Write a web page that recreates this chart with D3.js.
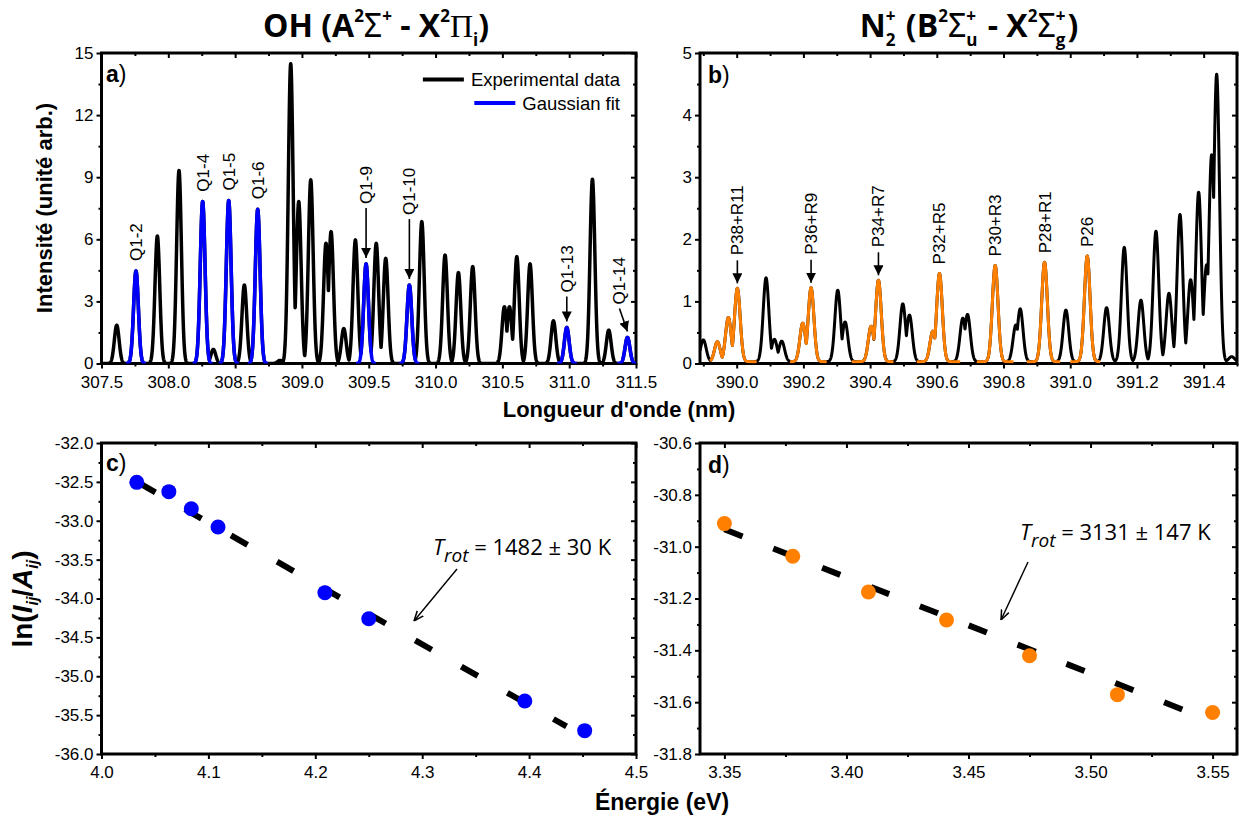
<!DOCTYPE html>
<html>
<head>
<meta charset="utf-8">
<title>OH et N2+ : spectres et diagrammes de Boltzmann</title>
<script src="https://d3js.org/d3.v7.min.js"></script>
<style>
  body { margin: 0; background: #fff; }
</style>
</head>
<body>
<svg id="fig" width="1239" height="823"></svg>
<script>
// ---- OH (A-X) spectrum : experimental lines (nm / intensity)
var ohLineNm  = [307.614, 307.918, 308.080, 308.337, 308.569, 308.836, 308.916, 308.976, 309.066, 309.180,
                 309.218, 309.313, 309.400, 309.556, 309.627, 309.897, 310.071, 310.171, 310.278, 310.515,
                 310.553, 310.608, 310.707, 310.882, 311.174, 311.296];
var ohLineInt = [1.85, 6.16, 9.32, 0.68, 3.79, 0.15, 14.48, 7.82, 8.87, 5.81,
                 6.37, 1.69, 5.97, 5.80, 5.08, 6.85, 5.24, 4.39, 4.68, 2.74,
                 2.74, 5.16, 4.81, 2.06, 8.90, 1.61];
// gaussian-fitted Q1 lines
var ohFitNm    = [307.758, 308.257, 308.452, 308.669, 309.480, 309.804, 310.982, 311.436];
var ohFitInt   = [4.47, 7.82, 7.87, 7.45, 4.81, 3.79, 1.74, 1.26];
var ohFitLabel = ["Q1-2", "Q1-4", "Q1-5", "Q1-6", "Q1-9", "Q1-10", "Q1-13", "Q1-14"];

// ---- N2+ (B-X) spectrum : experimental lines
var n2LineNm  = [389.900, 390.088, 390.113, 390.135, 390.303, 390.325, 390.498, 390.518, 390.678, 390.692,
                 390.837, 390.850, 390.987, 391.109, 391.162, 391.212, 391.257, 391.296, 391.329, 391.361,
                 391.385, 391.409, 391.424, 391.439, 391.484];
var n2LineInt = [0.35, 1.35, 0.36, 0.33, 1.15, 0.64, 0.93, 0.75, 0.70, 0.76,
                 0.59, 0.85, 0.83, 0.87, 1.84, 0.99, 2.10, 1.10, 2.37, 1.32,
                 2.73, 1.56, 3.33, 4.63, 0.08];
// fitted components and the ranges where the fit is drawn
var n2FitNm    = [389.942, 389.975, 390.002, 390.198, 390.223, 390.403, 390.425, 390.588, 390.608, 390.775, 390.923, 391.051];
var n2FitInt   = [0.32, 0.71, 1.18, 0.62, 1.19, 0.57, 1.31, 0.49, 1.42, 1.55, 1.60, 1.70];
var n2FitFrom  = [389.920, 390.160, 390.345, 390.540, 390.720, 390.870, 391.000];
var n2FitTo    = [390.060, 390.270, 390.470, 390.670, 390.830, 390.970, 391.090];
var n2FitLabel = ["P38+R11", "P36+R9", "P34+R7", "P32+R5", "P30+R3", "P28+R1", "P26"];

// ---- Boltzmann plots
var ohEnergy  = [4.033, 4.063, 4.084, 4.109, 4.209, 4.250, 4.396, 4.452];
var ohLnRatio = [-32.506, -32.626, -32.845, -33.080, -33.925, -34.260, -35.318, -35.700];
var ohFitE    = [4.035, 4.435];
var ohFitLn   = [-32.514, -35.646];
var ohTrot    = "1482 ± 30 K";

var n2Energy  = [3.350, 3.378, 3.409, 3.441, 3.475, 3.511, 3.550];
var n2LnRatio = [-30.911, -31.037, -31.175, -31.283, -31.421, -31.571, -31.640];
var n2FitE    = [3.350, 3.540];
var n2FitLn   = [-30.933, -31.637];
var n2Trot    = "3131 ± 147 K";

// ---- ticks
var ohNmTicks  = [307.5, 308.0, 308.5, 309.0, 309.5, 310.0, 310.5, 311.0, 311.5];
var ohIntTicks = [0, 3, 6, 9, 12, 15];
var n2NmTicks  = [390.0, 390.2, 390.4, 390.6, 390.8, 391.0, 391.2, 391.4];
var n2IntTicks = [0, 1, 2, 3, 4, 5];
var ohETicks   = [4.0, 4.1, 4.2, 4.3, 4.4, 4.5];
var ohLnTicks  = [-36.0, -35.5, -35.0, -34.5, -34.0, -33.5, -33.0, -32.5, -32.0];
var n2ETicks   = [3.35, 3.40, 3.45, 3.50, 3.55];
var n2LnTicks  = [-31.8, -31.6, -31.4, -31.2, -31.0, -30.8, -30.6];

var legendNames = ["Experimental data", "Gaussian fit"];

// ---------------------------------------------------------------------------
var sans = "'Liberation Sans', Arial, sans-serif";
var open = "'Open Sans', 'Noto Sans', sans-serif";
var blue = "#0000ff", orange = "#ff8000";

var svg = d3.select("#fig");

// plot frames
var pA = {x0: 101.5, x1: 636, y0: 53, y1: 363.5};
var pB = {x0: 700, x1: 1237, y0: 53, y1: 363.5};
var pC = {x0: 101.5, x1: 636, y0: 443, y1: 754};
var pD = {x0: 700, x1: 1237, y0: 443, y1: 754};

var xA = d3.scaleLinear().domain([307.5, 311.5]).range([pA.x0, pA.x1]);
var yA = d3.scaleLinear().domain([0, 15]).range([pA.y1, pA.y0]);
var xB = d3.scaleLinear().domain([389.89, 391.5]).range([pB.x0, pB.x1]);
var yB = d3.scaleLinear().domain([0, 5]).range([pB.y1, pB.y0]);
var xC = d3.scaleLinear().domain([4.0, 4.5]).range([pC.x0, pC.x1]);
var yC = d3.scaleLinear().domain([-36, -32]).range([pC.y1, pC.y0]);
var xD = d3.scaleLinear().domain([3.34, 3.56]).range([pD.x0, pD.x1]);
var yD = d3.scaleLinear().domain([-31.8, -30.6]).range([pD.y1, pD.y0]);

var defs = svg.append("defs");
defs.append("marker").attr("id", "head").attr("viewBox", "0 0 10 10")
    .attr("refX", 10).attr("refY", 5).attr("markerUnits", "userSpaceOnUse")
    .attr("markerWidth", 10).attr("markerHeight", 10).attr("orient", "auto")
  .append("path").attr("d", "M0,0L10,5L0,10Z").attr("fill", "#000");
defs.append("marker").attr("id", "vhead").attr("viewBox", "0 0 10 10")
    .attr("refX", 10).attr("refY", 5).attr("markerUnits", "userSpaceOnUse")
    .attr("markerWidth", 10).attr("markerHeight", 10).attr("orient", "auto")
  .append("path").attr("d", "M0,1L10,5L0,9").attr("fill", "none").attr("stroke", "#000").attr("stroke-width", 1.5);
[["clipA", pA], ["clipB", pB]].forEach(function(c) {
  defs.append("clipPath").attr("id", c[0]).append("rect")
      .attr("x", c[1].x0).attr("y", c[1].y0 - 1).attr("width", c[1].x1 - c[1].x0).attr("height", c[1].y1 - c[1].y0 + 1);
});

function minors(ticks, dom) {
  var step = ticks[1] - ticks[0], out = [];
  for (var v = ticks[0] - step / 2; v <= dom[1] + 1e-9; v += step) {
    if (v >= dom[0] - 1e-9) out.push(v);
  }
  return out;
}

function axes(p, xs, ys, xt, yt, xf, yf) {
  var g = svg.append("g");
  var xm = minors(xt, xs.domain()), ym = minors(yt, ys.domain());
  g.append("g").attr("transform", "translate(0," + p.y1 + ")")
    .call(d3.axisBottom(xs).tickValues(xt).tickFormat(xf).tickSize(5).tickPadding(7));
  g.append("g").attr("transform", "translate(0," + p.y1 + ")")
    .call(d3.axisBottom(xs).tickValues(xm).tickFormat("").tickSize(3));
  g.append("g").attr("transform", "translate(0," + p.y0 + ")")
    .call(d3.axisTop(xs).tickValues(xt).tickFormat("").tickSize(-5));
  g.append("g").attr("transform", "translate(0," + p.y0 + ")")
    .call(d3.axisTop(xs).tickValues(xm).tickFormat("").tickSize(-3));
  g.append("g").attr("transform", "translate(" + p.x0 + ",0)")
    .call(d3.axisLeft(ys).tickValues(yt).tickFormat(yf).tickSize(5).tickPadding(3));
  g.append("g").attr("transform", "translate(" + p.x0 + ",0)")
    .call(d3.axisLeft(ys).tickValues(ym).tickFormat("").tickSize(3));
  g.append("g").attr("transform", "translate(" + p.x1 + ",0)")
    .call(d3.axisRight(ys).tickValues(yt).tickFormat("").tickSize(-5));
  g.append("g").attr("transform", "translate(" + p.x1 + ",0)")
    .call(d3.axisRight(ys).tickValues(ym).tickFormat("").tickSize(-3));
  g.selectAll(".domain").remove();
  g.selectAll(".tick line").attr("stroke", "#000").attr("stroke-width", 2);
  g.selectAll(".tick text").attr("font-size", 17).attr("font-family", sans).attr("fill", "#000");
  svg.append("rect").attr("x", p.x0).attr("y", p.y0)
    .attr("width", p.x1 - p.x0).attr("height", p.y1 - p.y0)
    .attr("fill", "none").attr("stroke", "#000").attr("stroke-width", 3);
}

// line profile built from a list of lines (center, height)
function profile(grid, centers, heights, sigma, base) {
  return grid.map(function(x) {
    var v = 0;
    centers.forEach(function(c, i) {
      var d = x - c;
      if (Math.abs(d) < 6 * sigma) v = Math.max(v, heights[i] * Math.exp(-d * d / (2 * sigma * sigma)));
    });
    return [x, v + base];
  });
}

// text made of pieces (super/subscripts), returns group and width
function rich(parent, parts) {
  var g = parent.append("g"), x = 0;
  parts.forEach(function(p) {
    var list = p.stack || [p], w = 0;
    list.forEach(function(q) {
      var t = g.append("text").attr("x", x).attr("y", q.shift || 0)
        .attr("font-size", q.size).attr("font-family", q.fam || open)
        .attr("font-weight", q.weight || "normal").attr("font-style", q.style || "normal")
        .attr("fill", "#000").text(q.t);
      w = Math.max(w, t.node().getComputedTextLength());
    });
    x += w + (p.gap || 0);
  });
  return {g: g, w: x};
}

function panelLetter(x, y, letter) {
  var t = svg.append("text").attr("x", x).attr("y", y).attr("font-family", sans).attr("font-size", 23);
  t.append("tspan").attr("font-weight", "bold").text(letter);
  t.append("tspan").text(")");
}

function arrow(x1, y1, x2, y2, mk, w) {
  svg.append("line").attr("x1", x1).attr("y1", y1).attr("x2", x2).attr("y2", y2)
    .attr("stroke", "#000").attr("stroke-width", w).attr("marker-end", "url(#" + mk + ")");
}

function vLabel(x, y, txt) {
  svg.append("text").attr("transform", "translate(" + x + "," + y + ") rotate(-90)")
    .attr("dy", "0.35em").attr("font-family", sans).attr("font-size", 17).text(txt);
}

var line = d3.line();

// ============ a) OH spectrum
axes(pA, xA, yA, ohNmTicks, ohIntTicks, function(d) { return d.toFixed(1); }, function(d) { return d; });
var sigA = 0.018;
var gridA = d3.range(307.5, 311.5005, 0.001);
var expA = profile(gridA, ohLineNm.concat(ohFitNm), ohLineInt.concat(ohFitInt), sigA, 0);
var gA = svg.append("g").attr("clip-path", "url(#clipA)");
gA.append("path").attr("d", line(expA.map(function(d) { return [xA(d[0]), yA(d[1])]; })))
  .attr("fill", "none").attr("stroke", "#000").attr("stroke-width", 3.5).attr("stroke-linejoin", "round");
ohFitNm.forEach(function(c, i) {
  var seg = profile(d3.range(c - 0.075, c + 0.0755, 0.001), [c], [ohFitInt[i]], sigA, 0);
  gA.append("path").attr("d", line(seg.map(function(d) { return [xA(d[0]), yA(d[1])]; })))
    .attr("fill", "none").attr("stroke", blue).attr("stroke-width", 3.5).attr("stroke-linejoin", "round");
});
// labels Q1-x (arrow length in px, 0 = no arrow)
var ohArrow = [0, 0, 0, 0, 50, 60, 25, 23];
var ohLabDx = [0, 0, 0, 0, 0, 0, 0, -8];
ohFitNm.forEach(function(c, i) {
  var px = xA(c), top = yA(ohFitInt[i]);
  if (ohArrow[i]) {
    var tip = top - 6;
    arrow(px + ohLabDx[i], tip - ohArrow[i], px, tip, "head", 1.6);
    vLabel(px + ohLabDx[i], tip - ohArrow[i] - 4, ohFitLabel[i]);
  } else {
    vLabel(px, top - 10, ohFitLabel[i]);
  }
});
panelLetter(106, 82, "a");
// legend
legendNames.forEach(function(n, i) {
  var yb = 86 + i * 23.5;
  var t = svg.append("text").attr("x", 620).attr("y", yb).attr("text-anchor", "end")
    .attr("font-family", sans).attr("font-size", 18.5).text(n);
  var x0 = 620 - t.node().getComputedTextLength();
  svg.append("line").attr("x1", x0 - 48).attr("x2", x0 - 7).attr("y1", yb - 6.5).attr("y2", yb - 6.5)
    .attr("stroke", i ? blue : "#000").attr("stroke-width", 4);
});

// ============ b) N2+ spectrum
axes(pB, xB, yB, n2NmTicks, n2IntTicks, function(d) { return d.toFixed(1); }, function(d) { return d; });
var sigB = 0.0085, baseB = 0.03;
var gridB = d3.range(389.89, 391.5, 0.0004);
var expB = profile(gridB, n2LineNm.concat(n2FitNm), n2LineInt.concat(n2FitInt), sigB, baseB);
var gB = svg.append("g").attr("clip-path", "url(#clipB)");
gB.append("path").attr("d", line(expB.map(function(d) { return [xB(d[0]), yB(d[1])]; })))
  .attr("fill", "none").attr("stroke", "#000").attr("stroke-width", 3).attr("stroke-linejoin", "round");
n2FitFrom.forEach(function(a, i) {
  var b = n2FitTo[i];
  var idx = n2FitNm.map(function(c, k) { return k; }).filter(function(k) { return n2FitNm[k] >= a && n2FitNm[k] <= b; });
  var seg = profile(d3.range(a, b + 0.0002, 0.0004), idx.map(function(k) { return n2FitNm[k]; }),
                    idx.map(function(k) { return n2FitInt[k]; }), sigB, baseB);
  gB.append("path").attr("d", line(seg.map(function(d) { return [xB(d[0]), yB(d[1])]; })))
    .attr("fill", "none").attr("stroke", orange).attr("stroke-width", 3).attr("stroke-linejoin", "round");
  // label on the strongest component
  var kMax = idx.reduce(function(m, k) { return n2FitInt[k] > n2FitInt[m] ? k : m; }, idx[0]);
  var px = xB(n2FitNm[kMax]), top = yB(n2FitInt[kMax] + baseB);
  if (i < 3) {
    var tip = top - 5;
    arrow(px, tip - 23, px, tip, "head", 1.6);
    vLabel(px, tip - 28, n2FitLabel[i]);
  } else {
    vLabel(px, top - 9, n2FitLabel[i]);
  }
});
panelLetter(708, 83, "b");

// ============ c) OH Boltzmann plot
axes(pC, xC, yC, ohETicks, ohLnTicks, function(d) { return d.toFixed(1); }, function(d) { return d.toFixed(1); });
svg.append("path").attr("d", line(ohFitE.map(function(e, i) { return [xC(e), yC(ohFitLn[i])]; })))
  .attr("fill", "none").attr("stroke", "#000").attr("stroke-width", 6).attr("stroke-dasharray", "19,34");
svg.append("g").selectAll("circle").data(ohEnergy).join("circle")
  .attr("cx", function(d) { return xC(d); }).attr("cy", function(d, i) { return yC(ohLnRatio[i]); })
  .attr("r", 7.5).attr("fill", blue);
panelLetter(106, 471, "c");
var tc = rich(svg, [{t: "T", size: 22, style: "italic"}, {t: "rot", size: 19, style: "italic", shift: 7},
                    {t: "\u00a0=\u00a0" + ohTrot.replace(/ /g, "\u00a0"), size: 22}]);
tc.g.attr("transform", "translate(433,555)");
arrow(457, 569, 414, 621, "vhead", 1.4);

// ============ d) N2+ Boltzmann plot
axes(pD, xD, yD, n2ETicks, n2LnTicks, function(d) { return d.toFixed(2); }, function(d) { return d.toFixed(1); });
svg.append("path").attr("d", line(n2FitE.map(function(e, i) { return [xD(e), yD(n2FitLn[i])]; })))
  .attr("fill", "none").attr("stroke", "#000").attr("stroke-width", 6).attr("stroke-dasharray", "19.5,33");
svg.append("g").selectAll("circle").data(n2Energy).join("circle")
  .attr("cx", function(d) { return xD(d); }).attr("cy", function(d, i) { return yD(n2LnRatio[i]); })
  .attr("r", 7.5).attr("fill", orange);
panelLetter(708, 473, "d");
var td = rich(svg, [{t: "T", size: 22, style: "italic"}, {t: "rot", size: 19, style: "italic", shift: 7},
                    {t: "\u00a0=\u00a0" + n2Trot.replace(/ /g, "\u00a0"), size: 22}]);
td.g.attr("transform", "translate(1020,540)");
arrow(1028, 562, 1001, 620, "vhead", 1.4);

// ============ axis titles
svg.append("text").attr("x", 619).attr("y", 417).attr("text-anchor", "middle")
  .attr("font-family", sans).attr("font-weight", "bold").attr("font-size", 22).text("Longueur d'onde (nm)");
svg.append("text").attr("x", 662).attr("y", 810).attr("text-anchor", "middle")
  .attr("font-family", sans).attr("font-weight", "bold").attr("font-size", 23).text("Énergie (eV)");
svg.append("text").attr("transform", "translate(52,208) rotate(-90)").attr("text-anchor", "middle")
  .attr("font-family", sans).attr("font-weight", "bold").attr("font-size", 22).text("Intensité (unité arb.)");
var bSub = {size: 16, weight: "bold", style: "italic", fam: sans, shift: 6};
var ln = rich(svg, [
  {t: "ln(", size: 28, weight: "bold", fam: sans},
  {t: "I", size: 28, weight: "bold", style: "italic", fam: sans},
  Object.assign({t: "ij"}, bSub),
  {t: "/", size: 28, weight: "bold", fam: sans},
  {t: "A", size: 28, weight: "bold", style: "italic", fam: sans},
  Object.assign({t: "ij"}, bSub),
  {t: ")", size: 28, weight: "bold", fam: sans}
]);
ln.g.attr("transform", "translate(32,599) rotate(-90) translate(" + (-ln.w / 2) + ",0)");

// ============ titles
var big = function(t) { return {t: t, size: 32, weight: "bold", fam: open}; };
var sup = function(t) { return {t: t, size: 17, weight: "bold", fam: open, shift: -15}; };
var sub = function(t) { return {t: t, size: 17, weight: "bold", fam: open, shift: 9}; };
var sym = function(t, f) { return {t: t, size: 32, fam: f}; };

var t1 = rich(svg, [big("OH\u00a0(A"), sup("2"), sym("Σ", "'Noto Sans', sans-serif"), sup("+"),
                    big("\u00a0-\u00a0X"), sup("2"), sym("Π", "'Liberation Serif', serif"), sub("i"), big(")")]);
t1.g.attr("transform", "translate(" + (376 - t1.w / 2) + ",37)");
var t2 = rich(svg, [big("N"), {stack: [sup("+"), sub("2")], gap: 2}, big("\u00a0(B"), sup("2"),
                    sym("Σ", "'Noto Sans', sans-serif"), {stack: [sup("+"), sub("u")], gap: 2},
                    big("\u00a0-\u00a0X"), sup("2"), sym("Σ", "'Noto Sans', sans-serif"),
                    {stack: [sup("+"), sub("g")], gap: 2}, big(")")]);
t2.g.attr("transform", "translate(" + (969 - t2.w / 2) + ",37)");
</script>
</body>
</html>
